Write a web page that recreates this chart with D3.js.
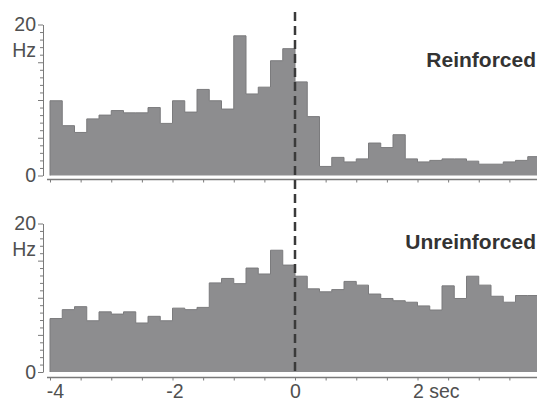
<!DOCTYPE html>
<html>
<head>
<meta charset="utf-8">
<script src="https://cdn.jsdelivr.net/npm/d3@7"></script>
<style>
  html, body { margin: 0; padding: 0; background: #fff; }
  svg { display: block; }
  text { font-family: "Liberation Sans", Arial, Helvetica, sans-serif; }
</style>
</head>
<body>
<svg id="chart" width="537" height="401"></svg>
<script>
// ---- data ----
const binStart = [-4.0,-3.8,-3.6,-3.4,-3.2,-3.0,-2.8,-2.6,-2.4,-2.2,
                  -2.0,-1.8,-1.6,-1.4,-1.2,-1.0,-0.8,-0.6,-0.4,-0.2,
                   0.0, 0.2, 0.4, 0.6, 0.8, 1.0, 1.2, 1.4, 1.6, 1.8,
                   2.0, 2.2, 2.4, 2.6, 2.8, 3.0, 3.2, 3.4, 3.6, 3.8];
const binWidth = 0.2;
const reinforced = [9.9,6.6,5.7,7.5,8.0,8.6,8.3,8.3,9.0,6.9,
                    9.9,8.4,11.4,9.9,8.8,18.5,10.8,11.7,15.2,16.8,
                    12.4,7.8,1.2,2.4,1.8,2.2,4.3,3.7,5.4,2.2,
                    1.8,2.0,2.2,2.2,1.9,1.5,1.5,1.8,2.0,2.5];
const unreinforced = [7.2,8.4,8.8,6.9,8.1,7.8,8.1,6.6,7.5,6.9,
                      8.6,8.4,8.7,12.0,12.6,11.9,14.0,13.2,16.4,14.4,
                      12.9,11.2,10.8,11.1,12.2,11.7,10.5,9.9,9.6,9.4,
                      8.9,8.35,11.6,9.9,12.9,11.7,10.2,9.4,10.3,10.3];
const xTickValues = [-4,-3.5,-3,-2.5,-2,-1.5,-1,-0.5,0,0.5,1,1.5,2,2.5,3,3.5];
const xTickLabels = {"-4":"-4","-2":"-2","0":"0","2":"2 sec"};
const yLabelTicks = [0, 20];
const yUnit = "Hz";
const panelTitles = ["Reinforced", "Unreinforced"];

// ---- layout ----
const svg = d3.select("#chart");
const x = d3.scaleLinear().domain([-4, 4]).range([50, 540]);

const panels = [
  { values: reinforced,   title: panelTitles[0], y0: 175.5, y20: 24.5, axisY: 179.5, showLabels: false, titleY: 67 },
  { values: unreinforced, title: panelTitles[1], y0: 372,   y20: 223.5, axisY: 377.5, showLabels: true,  titleY: 249 }
];

const barFill = "#8d8d8f";
const textCol = "#505050";
const axisCol = "#7a7a7a";

panels.forEach(p => {
  const y = d3.scaleLinear().domain([0, 20]).range([p.y0, p.y20]);
  const g = svg.append("g");

  // step-shaped histogram
  const pts = binStart.map((b, i) => [b, p.values[i]]);
  pts.push([binStart[binStart.length - 1] + binWidth, p.values[p.values.length - 1]]);
  const area = d3.area().x(d => x(d[0])).y0(y(0)).y1(d => y(d[1])).curve(d3.curveStepAfter);
  g.append("path").attr("d", area(pts)).attr("fill", barFill);
  const line = d3.line().x(d => x(d[0])).y(d => y(d[1])).curve(d3.curveStepAfter);
  const outline = [[binStart[0], 0], ...pts];
  g.append("path").attr("d", line(outline)).attr("fill", "none")
    .attr("stroke", "#7b7b7d").attr("stroke-width", 1);

  // y axis: minor ticks every 1 Hz
  const yAxis = d3.axisLeft(y).tickValues(d3.range(0, 21, 1))
    .tickSize(3).tickSizeOuter(0).tickFormat("");
  const ya = g.append("g").attr("transform", "translate(43,0)").call(yAxis);
  ya.select(".domain").attr("stroke", axisCol).attr("stroke-width", 1);
  ya.selectAll(".tick line").attr("stroke", axisCol)
    .attr("x2", d => d % 5 === 0 ? -5 : -3);
  // y labels
  yLabelTicks.forEach(v => {
    g.append("text").attr("x", 36).attr("y", y(v) + 6.5)
      .attr("text-anchor", "end").attr("font-size", 19.5).attr("fill", textCol).text(v);
  });
  g.append("text").attr("x", 36).attr("y", y(20) + 32)
    .attr("text-anchor", "end").attr("font-size", 19.5).attr("fill", textCol).text(yUnit);

  // x axis
  const xAxis = d3.axisBottom(x).tickValues(xTickValues).tickSize(3).tickSizeOuter(0)
    .tickFormat(d => p.showLabels ? (xTickLabels[String(d)] || "") : "");
  const xa = g.append("g").attr("transform", `translate(0,${p.axisY})`).call(xAxis);
  xa.select(".domain").attr("stroke", axisCol).attr("stroke-width", 1.3)
    .attr("d", `M${x(-4) - 3},0H537`);
  xa.selectAll(".tick line").attr("stroke", axisCol);
  xa.selectAll(".tick text").attr("font-size", 19.5).attr("fill", textCol)
    .attr("font-family", "Liberation Sans, Arial, sans-serif")
    .attr("y", 7)
    .attr("dx", d => d === -4 ? 5 : (d === -2 ? 2 : 0))
    .attr("text-anchor", d => d === 2 ? "start" : "middle")
    .attr("x", d => d === 2 ? -5 : 0);

  // panel title
  g.append("text").attr("x", 536).attr("y", p.titleY).attr("text-anchor", "end")
    .attr("font-size", 21).attr("font-weight", "bold").attr("fill", "#333").text(p.title);
});

// event line at t = 0
svg.append("line")
  .attr("x1", x(0)).attr("x2", x(0)).attr("y1", 12).attr("y2", 376)
  .attr("stroke", "#3a3a3a").attr("stroke-width", 2.5).attr("stroke-dasharray", "9,5");
</script>
</body>
</html>
